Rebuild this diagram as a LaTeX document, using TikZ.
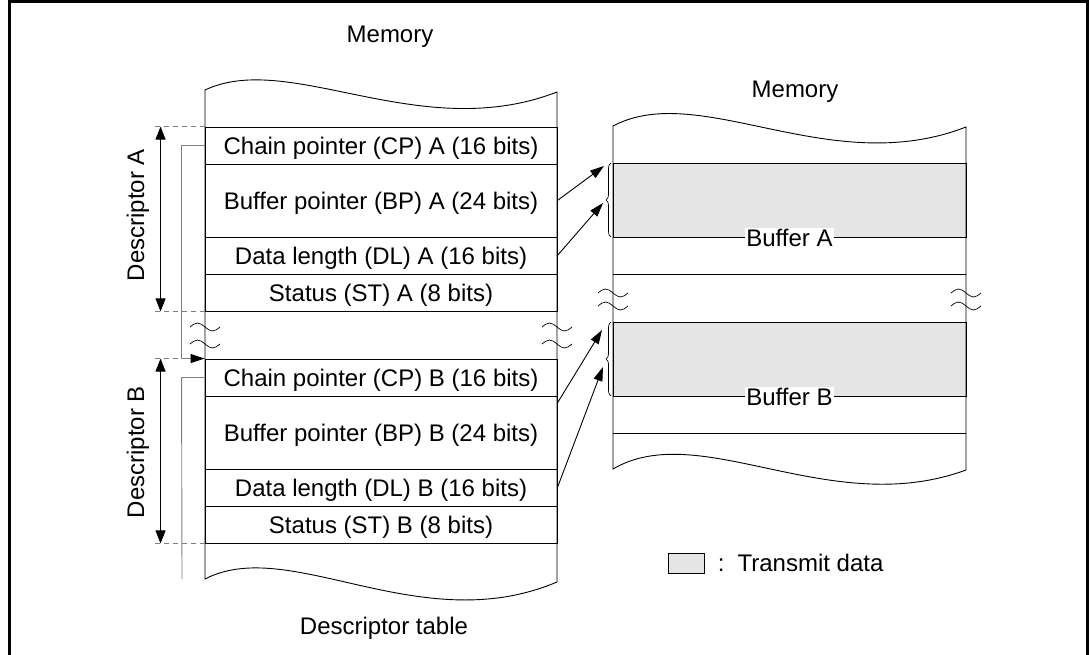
\documentclass[tikz,border=0pt]{standalone}
\usepackage{fontspec}
\setmainfont{Liberation Sans}
\usetikzlibrary{arrows.meta,positioning,calc,decorations.pathreplacing}

\tikzset{
  field/.style={draw, minimum width=352pt, inner sep=0pt, text depth=0pt},
  bufbox/.style={draw, fill=black!10, minimum width=353pt, minimum height=74pt, inner sep=0pt},
  ptr/.style={-{Triangle[length=14pt,width=9pt,black]}},
  chain/.style={draw=black!50},
  guide/.style={black!50, dash pattern=on 5pt off 4pt},
  dim/.style={{Triangle[length=13pt,width=10pt]}-{Triangle[length=13pt,width=10pt]}},
}

\begin{document}
\begin{tikzpicture}[x=1pt, y=-1pt, line width=0.9pt, font=\fontsize{24}{28}\selectfont]
  \useasboundingbox (0,0) rectangle (1090,655);
  \draw[line width=3pt] (9,655) -- (9,2) -- (1087,2) -- (1087,655);

  \foreach \n/\y/\h/\t in {cpa/145.5/37/{Chain pointer (CP) A (16 bits)},
      bpa/200.5/73/{Buffer pointer (BP) A (24 bits)},
      dla/255.5/37/{Data length (DL) A (16 bits)},
      sta/292.5/37/{Status (ST) A (8 bits)},
      cpb/377.5/37/{Chain pointer (CP) B (16 bits)},
      bpb/432.5/73/{Buffer pointer (BP) B (24 bits)},
      dlb/487.5/37/{Data length (DL) B (16 bits)},
      stb/524.5/37/{Status (ST) B (8 bits)}}
    \node[field, minimum height=\h pt] (\n) at (381,\y) {\t};
  \draw (205,90) .. controls (290,50) and (420,145) .. (557,92) -- (557,582)
    .. controls (420,640) and (290,535) .. (205,579) -- cycle;

  \node (memt) at (390,37) {Memory};
  \node (tbl) at (384,628) {Descriptor table};

  \draw[guide] (cpa.north west) -- ++(-50,0);
  \draw[guide] (sta.south west) -- ++(-50,0);
  \draw[guide] (cpb.north west) -- ++(-50,0);
  \draw[guide] (stb.south west) -- ++(-50,0);
  \draw[dim] ($(cpa.north west)+(-44,0)$) -- ($(sta.south west)+(-44,0)$);
  \draw[dim] ($(cpb.north west)+(-44,0)$) -- ($(stb.south west)+(-44,0)$);
  \node[rotate=90] (desca) at (138,215) {Descriptor A};
  \node[rotate=90] (descb) at (138,452) {Descriptor B};

  \coordinate (cpend) at (182,579);
  \draw[chain, ptr] (cpa.west) -- ++(-23,0) |- (cpb.north west);
  \draw[chain] (cpb.west) -- ++(-23,0) -- (cpend);

  \node[bufbox] (bufa) at (789.5,200) {};
  \node[bufbox] (bufb) at (789.5,359) {};
  \draw (613,274) -- (966,274);
  \draw (613,433) -- (966,433);
  \draw (613,126) .. controls (700,80) and (830,180) .. (966,127) -- (966,470)
    .. controls (830,520) and (700,418) .. (613,469) -- cycle;
  \node[fill=white, inner sep=1pt] (laba) at (bufa.south) {Buffer A};
  \node[fill=white, inner sep=1pt] (labb) at (bufb.south) {Buffer B};
  \node (memr) at (795,92) {Memory};

  \foreach \x/\y in {205/327,205/344,557/327,557/344,613/293,613/306,966/293,966/306}
    \draw[line width=0.7pt] (\x-15,\y) sin (\x-7.5,\y-4) cos (\x,\y) sin (\x+7.5,\y+4) cos (\x+15,\y);

  \draw[decorate, decoration={brace, amplitude=5pt}, line width=0.7pt] (611,237) -- (611,163);
  \draw[decorate, decoration={brace, amplitude=5pt}, line width=0.7pt] (611,396) -- (611,322);

  \coordinate (ta1) at (604,166);
  \coordinate (ta2) at (603,203);
  \coordinate (tb1) at (602,330);
  \coordinate (tb2) at (603,367);
  \draw[ptr] (bpa.east) -- (ta1);
  \draw[ptr] (dla.east) -- (ta2);
  \draw[ptr] ($(bpb.north east)!0.1!(bpb.south east)$) -- (tb1);
  \draw[ptr] (dlb.east) -- (tb2);

  \node[draw, fill=black!10, minimum width=36pt, minimum height=20pt, inner sep=0pt] (key) at (686,563) {};
  \node[right=13pt of key, inner sep=0pt] (keytxt) {:\hspace{13pt}Transmit data};
\end{tikzpicture}
\end{document}
